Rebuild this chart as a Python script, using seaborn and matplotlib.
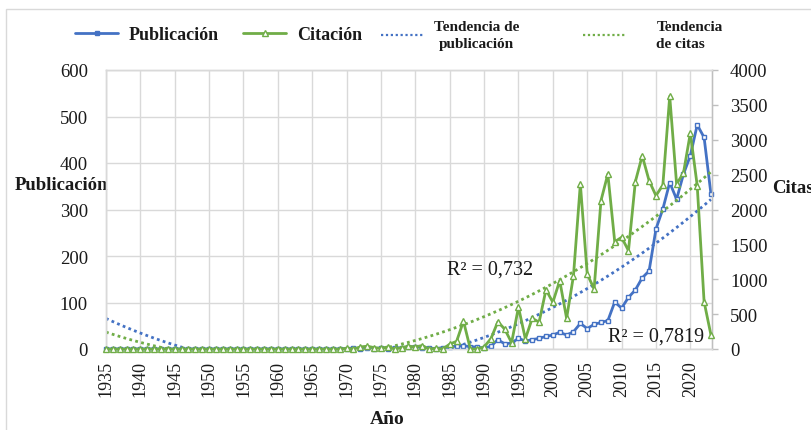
import numpy as np
import pandas as pd
import matplotlib
matplotlib.use("Agg")
import matplotlib.pyplot as plt
from matplotlib.lines import Line2D
from matplotlib.patches import Rectangle
import seaborn as sns

# ---------------- data ----------------
years = list(range(1935, 2024))
publicaciones = [0] * 35 + [
    1, 2, 1, 3, 1, 2, 1, 3, 2, 4,
    5, 3, 2, 1, 3, 5, 6, 7, 5, 4,
    2, 6, 20, 11, 13, 23, 17, 20, 23, 27,
    30, 36, 30, 37, 55, 44, 53, 57, 61, 101,
    88, 111, 127, 153, 168, 258, 301, 358, 322, 376,
    416, 482, 455, 333,
]
citas = [0] * 35 + [
    10, 0, 30, 40, 20, 10, 30, 0, 20, 40,
    30, 50, 0, 10, 0, 70, 110, 400, 0, 0,
    30, 150, 390, 285, 90, 600, 145, 440, 385, 850,
    670, 980, 440, 1050, 2366, 1075, 860, 2127, 2509, 1538,
    1601, 1410, 2399, 2771, 2413, 2198, 2351, 3623, 2366, 2523,
    3097, 2342, 678, 200,
]
x_ticks = list(range(1935, 2021, 5))
left_ticks = [0, 100, 200, 300, 400, 500, 600]
right_ticks = [0, 500, 1000, 1500, 2000, 2500, 3000, 3500, 4000]
r2_pub_text = "R² = 0,732"
r2_cit_text = "R² = 0,7819"

df = pd.DataFrame({"Año": years, "Publicación": publicaciones, "Citas": citas})

BLUE = "#4472C4"
GREEN = "#70AD47"
GRID = "#d9d9d9"
TXT = "#1a1a1a"
DOT = (0, (1, 1.2))

sns.set_style("white")
plt.rcParams["font.family"] = ["Liberation Serif", "DejaVu Serif"]

W, H = 812, 431
fig = plt.figure(figsize=(W / 100, H / 100), dpi=100)
l, r, t, b = 106, 712, 71, 350
ax = fig.add_axes([l / W, 1 - b / H, (r - l) / W, (b - t) / H])
ax2 = ax.twinx()

# trend lines (quadratic fits)
sns.regplot(data=df, x="Año", y="Publicación", order=2, ci=None, scatter=False, ax=ax,
            line_kws=dict(color=BLUE, lw=2, ls=DOT, dash_capstyle="butt"))
sns.regplot(data=df, x="Año", y="Citas", order=2, ci=None, scatter=False, ax=ax2,
            line_kws=dict(color=GREEN, lw=2, ls=DOT, dash_capstyle="butt"))

# data series
sns.lineplot(data=df, x="Año", y="Publicación", ax=ax, color=BLUE, lw=2,
             marker="s", markersize=3.5, markerfacecolor="white", markeredgecolor=BLUE,
             markeredgewidth=1, clip_on=False, zorder=4)
sns.lineplot(data=df, x="Año", y="Citas", ax=ax2, color=GREEN, lw=2,
             marker="^", markersize=4.5, markerfacecolor="white", markeredgecolor=GREEN,
             markeredgewidth=1, clip_on=False, zorder=3)

ax.set_xlim(1935, 2023.15)
ax.set_ylim(0, 600)
ax2.set_ylim(0, 4000)

ax.set_xticks(x_ticks)
ax.set_xticklabels([str(v) for v in x_ticks], rotation=90)
ax.set_yticks(left_ticks)
ax2.set_yticks(right_ticks)

ax.grid(True, color=GRID, lw=1)
ax.set_axisbelow(True)
ax2.grid(False)

ax.tick_params(axis="x", length=0, pad=8, labelsize=13, labelcolor=TXT)
ax.tick_params(axis="y", length=0, pad=13, labelsize=13.5, labelcolor=TXT)
ax2.tick_params(axis="y", length=4, width=1, color="#bfbfbf", pad=9, labelsize=13.5, labelcolor=TXT)

for a in (ax, ax2):
    for s in a.spines.values():
        s.set_color(GRID)
        s.set_linewidth(1)
ax2.spines["right"].set_color("#bfbfbf")

ax.set_xlabel("Año", fontsize=14, fontweight="bold", color=TXT)
ax.xaxis.set_label_coords(0.464, -0.22)
ax.set_ylabel("Publicación", fontsize=13.5, fontweight="bold", rotation=0, color=TXT,
              ha="center", va="center")
ax.yaxis.set_label_coords(-0.073, 0.59)
ax2.set_ylabel("Citas", fontsize=13.5, fontweight="bold", rotation=0, color=TXT,
               ha="left", va="center")
ax2.yaxis.set_label_coords(1.099, 0.58)

ax.text(0.563, 0.287, r2_pub_text, transform=ax.transAxes, fontsize=14.5, color=TXT,
        ha="left", va="center")
ax.text(0.828, 0.045, r2_cit_text, transform=ax.transAxes, fontsize=14.5, color=TXT,
        ha="left", va="center")

# legend (four entries placed along the top)
yleg = 1 - 36 / H
entries = [
    (Line2D([], [], color=BLUE, lw=2, marker="s", ms=3.5, mfc=BLUE, mec=BLUE),
     "Publicación", 75, 13, 2.4, 0.55),
    (Line2D([], [], color=GREEN, lw=2, marker="^", ms=4, mfc="white", mec=GREEN),
     "Citación", 243, 13, 2.4, 0.6),
    (Line2D([], [], color=BLUE, lw=1.6, ls=DOT),
     "Tendencia de\npublicación", 381, 11, 2.8, 0.65),
    (Line2D([], [], color=GREEN, lw=1.6, ls=DOT),
     "Tendencia\nde citas", 583, 11, 2.8, 2.0),
]
for h, lab, xpx, fs, hl, htp in entries:
    leg = fig.legend([h], [lab], loc="center left", bbox_to_anchor=(xpx / W, yleg),
                     frameon=False, borderpad=0, borderaxespad=0, handlelength=hl,
                     handletextpad=htp, prop=dict(size=fs, weight="bold"))
    for tx in leg.get_texts():
        tx.set_color(TXT)
        if lab.startswith("Tendencia de\n"):
            tx.set_multialignment("center")
        tx.set_linespacing(1.4)

# chart-area border
fig.patches.append(Rectangle((6 / W, -0.01), 1.0, 1 - 10 / H + 0.01, transform=fig.transFigure,
                             fill=False, edgecolor="#d9d9d9", lw=1))

fig.savefig("out.png", dpi=100)
